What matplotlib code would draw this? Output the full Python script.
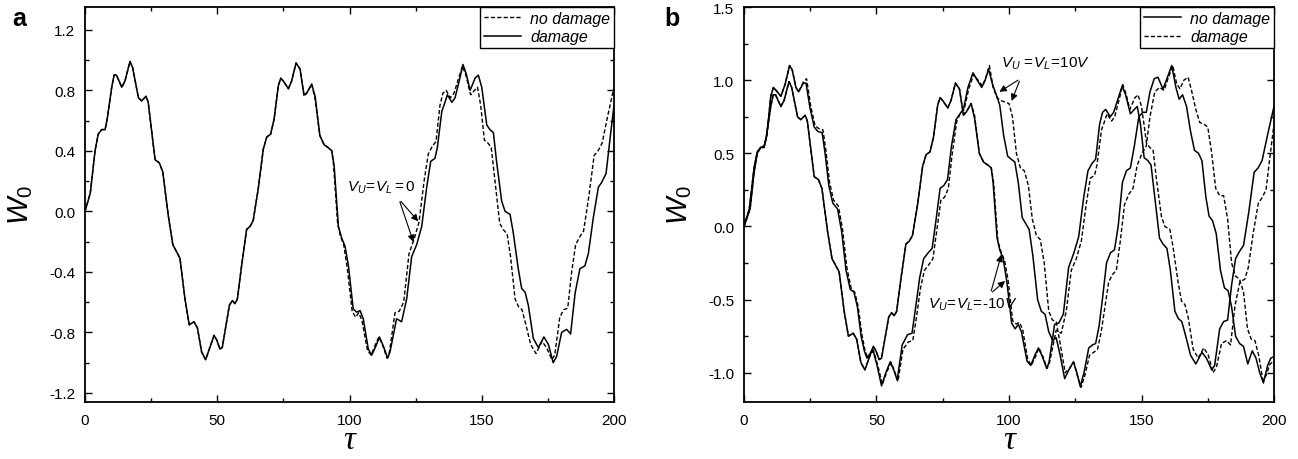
import numpy as np
import matplotlib.pyplot as plt

plt.rcParams['font.family'] = ['Liberation Sans', 'DejaVu Sans']
plt.rcParams['mathtext.fontset'] = 'custom'
plt.rcParams['mathtext.it'] = 'Liberation Sans:italic'
plt.rcParams['mathtext.rm'] = 'Liberation Sans'

# ---- panel a : V_U = V_L = 0 ----
tau_a_dmg = [0, 2, 3.8, 5, 6.3, 7.6, 8.4, 10.1, 11, 11.9, 13.9, 15.1, 17, 18, 20.2, 21.4, 23.1, 23.9,
             26.5, 28.1, 29.4, 31.5, 33.2, 34.7, 35.9, 37.8, 39.4, 41.2, 42.5, 44.1, 45.6, 46.6, 48.8,
             49.8, 51, 51.9, 54.6, 55.7, 56.7, 57.6, 59.2, 61.1, 62.4, 63.6, 65.5, 67.4, 68.7, 70.2,
             71.5, 73.1, 74, 75, 76.9, 78.1, 79.8, 81.3, 82.8, 83.8, 85.7, 87, 88.8, 90.4, 92, 93.3,
             94.2, 95.8, 97.1, 98.3, 99.6, 101.4, 102.7, 104, 105.2, 107.1, 108.4, 110, 111.3, 112.8,
             114.4, 115.3, 117.8, 119.7, 121.6, 123.5, 125.4, 127.3, 129.2, 130.7, 132.3, 133.2, 134.9,
             136.1, 137, 138.7, 139.9, 141.6, 142.9, 144.1, 145.6, 147.5, 148.7, 150, 151.9, 153.1,
             154.4, 155.6, 157.5, 158.8, 160.7, 161.9, 163.8, 165.1, 166.4, 167.6, 169.5, 171.4, 173.5,
             175.2, 177, 178.3, 180.2, 182.1, 183.6, 185.3, 187.1, 189, 190.3, 192.2, 194.1, 195.3,
             197, 198.5, 200]
w_a_dmg = [0, 0.12, 0.40, 0.51, 0.54, 0.54, 0.61, 0.82, 0.90, 0.90, 0.82, 0.86, 0.99, 0.95, 0.75, 0.73,
           0.76, 0.72, 0.34, 0.32, 0.26, -0.03, -0.22, -0.27, -0.31, -0.58, -0.75, -0.73, -0.77, -0.93,
           -0.98, -0.93, -0.82, -0.85, -0.91, -0.90, -0.62, -0.59, -0.61, -0.58, -0.36, -0.12, -0.10,
           -0.06, 0.15, 0.41, 0.49, 0.51, 0.61, 0.83, 0.88, 0.86, 0.81, 0.86, 0.98, 0.94, 0.77, 0.78,
           0.84, 0.76, 0.50, 0.44, 0.42, 0.40, 0.30, -0.10, -0.18, -0.23, -0.36, -0.645, -0.666, -0.656,
           -0.71, -0.91, -0.95, -0.89, -0.83, -0.89, -0.97, -0.93, -0.71, -0.73, -0.58, -0.30, -0.22,
           -0.10, 0.16, 0.33, 0.35, 0.42, 0.66, 0.72, 0.77, 0.72, 0.75, 0.87, 0.97, 0.91, 0.80, 0.88,
           0.90, 0.82, 0.57, 0.54, 0.52, 0.33, 0.07, 0.0, -0.02, -0.14, -0.38, -0.51, -0.535, -0.62,
           -0.84, -0.90, -0.83, -0.88, -1.0, -0.96, -0.80, -0.78, -0.81, -0.54, -0.38, -0.36, -0.28,
           -0.04, 0.16, 0.19, 0.25, 0.48, 0.70]

tau_a_nodmg = [0, 2, 3.8, 5, 6.3, 7.6, 8.4, 10.1, 11, 11.9, 13.9, 15.1, 17, 18, 20.2, 21.4, 23.1, 23.9,
               26.5, 28.1, 29.4, 31.5, 33.2, 34.7, 35.9, 37.8, 39.4, 41.2, 42.5, 44.1, 45.6, 46.6, 48.8,
               49.8, 51, 51.9, 54.6, 55.7, 56.7, 57.6, 59.2, 61.1, 62.4, 63.6, 65.5, 67.4, 68.7, 70.2,
               71.5, 73.1, 74, 75, 76.9, 78.1, 79.8, 81.3, 82.8, 83.8, 85.7, 87, 88.8, 90.4, 92, 93.3,
               94.0, 95.5, 96.5, 97.8, 99.2, 101.0, 102.3, 103.5, 104.7, 106.8, 108.2, 109.8, 111.1,
               112.6, 114.2, 115.1, 117.2, 118.8, 120.5, 122.5, 124.5, 126.3, 128.2, 129.8, 131.3,
               132.7, 134.2, 135.3, 136.5, 138.2, 139.5, 141.3, 142.7, 144.0, 145.8, 147.3, 148.4,
               149.6, 151.0, 152.4, 153.6, 155.0, 156.8, 158.1, 159.6, 160.9, 162.6, 163.9, 165.2,
               166.7, 168.5, 170.5, 172.8, 174.5, 176.5, 177.6, 179.5, 181.0, 182.5, 184.0, 185.5,
               187.0, 188.5, 190.5, 192.5, 194.0, 195.5, 197.5, 200]
w_a_nodmg = [0, 0.12, 0.40, 0.51, 0.54, 0.54, 0.61, 0.82, 0.90, 0.90, 0.82, 0.86, 0.99, 0.95, 0.75, 0.73,
             0.76, 0.72, 0.34, 0.32, 0.26, -0.03, -0.22, -0.27, -0.31, -0.58, -0.75, -0.73, -0.77, -0.93,
             -0.98, -0.93, -0.82, -0.85, -0.91, -0.90, -0.62, -0.59, -0.61, -0.58, -0.36, -0.12, -0.10,
             -0.06, 0.15, 0.41, 0.49, 0.51, 0.61, 0.83, 0.88, 0.86, 0.81, 0.86, 0.98, 0.94, 0.76, 0.78,
             0.84, 0.74, 0.50, 0.44, 0.42, 0.40, 0.30, -0.08, -0.16, -0.22, -0.38, -0.66, -0.70, -0.67,
             -0.72, -0.92, -0.95, -0.88, -0.83, -0.89, -0.97, -0.93, -0.67, -0.66, -0.60, -0.28, -0.18,
             -0.07, 0.20, 0.38, 0.43, 0.46, 0.70, 0.78, 0.80, 0.75, 0.78, 0.88, 0.96, 0.90, 0.77, 0.80,
             0.82, 0.70, 0.47, 0.45, 0.42, 0.20, -0.08, -0.12, -0.15, -0.30, -0.58, -0.63, -0.65, -0.75,
             -0.88, -0.94, -0.86, -0.90, -0.98, -0.95, -0.70, -0.65, -0.64, -0.40, -0.22, -0.17, -0.13,
             0.10, 0.37, 0.40, 0.45, 0.62, 0.82]

# ---- panel b : V_U = V_L = -10V (the pair that stays close to panel a) ----
tau_b_m10_nodmg = tau_a_nodmg
w_b_m10_nodmg = w_a_nodmg
tau_b_m10_dmg = tau_a_dmg
w_b_m10_dmg = w_a_dmg

# ---- panel b : V_U = V_L = 10V, (tau, W0) pairs ----
b_p10_nodmg = [(0, 0), (2.3, 0.12), (3.8, 0.37), (5.0, 0.50), (6.3, 0.54), (7.6, 0.55), (8.6, 0.62),
               (10.1, 0.89), (11.1, 0.95), (12.1, 0.93), (13.9, 0.89), (15.5, 0.97), (17.2, 1.10),
               (18.2, 1.07), (19.6, 0.95), (20.6, 0.92), (22.4, 0.98), (23.4, 0.98), (24.9, 0.81),
               (26.5, 0.68), (27.8, 0.65), (29.5, 0.64), (30.6, 0.50), (32.0, 0.28), (33.5, 0.16),
               (35.3, 0.12), (36.9, -0.04), (38.5, -0.30), (40.1, -0.43), (41.5, -0.45), (42.8, -0.55),
               (44.2, -0.75), (45.4, -0.85), (46.4, -0.90), (48.6, -0.84), (50.2, -0.95), (51.9, -1.09),
               (53.5, -1.0), (55.2, -0.925), (56.5, -0.98), (57.8, -1.05), (59.7, -0.81), (61.7, -0.74),
               (63.4, -0.73), (64.8, -0.55), (66.3, -0.35), (67.8, -0.22), (69.5, -0.18), (71.0, -0.15),
               (72.5, 0.05), (74.0, 0.26), (75.4, 0.28), (76.8, 0.32), (78.3, 0.55), (80.0, 0.73),
               (81.5, 0.77), (82.8, 0.80), (84.5, 0.95), (86.4, 1.05), (88.0, 1.0), (89.7, 0.95),
               (91.0, 1.0), (92.3, 1.075), (93.8, 0.97), (95.4, 0.89), (96.5, 0.83), (98.0, 0.62),
               (99.5, 0.48), (100.8, 0.46), (102.2, 0.44), (103.5, 0.30), (105.0, 0.06), (106.3, 0.02),
               (107.6, -0.02), (109.0, -0.20), (110.8, -0.50), (112.2, -0.58), (113.6, -0.60),
               (115.0, -0.72), (116.5, -0.78), (117.8, -0.76), (119.3, -0.88), (121.0, -1.04),
               (122.6, -0.98), (124.3, -0.925), (125.6, -1.0), (126.9, -1.095), (128.3, -1.0),
               (130.1, -0.83), (131.5, -0.81), (132.7, -0.80), (134.0, -0.68), (135.3, -0.49),
               (136.8, -0.25), (138.3, -0.18), (139.8, -0.16), (141.2, 0.0), (142.8, 0.30), (144.3, 0.38),
               (145.8, 0.40), (147.3, 0.55), (149.0, 0.75), (150.5, 0.78), (151.8, 0.78), (153.2, 0.92),
               (154.8, 1.01), (156.2, 1.02), (158.1, 0.94), (159.8, 1.02), (161.4, 1.10), (163.0, 0.95),
               (164.2, 0.87), (165.5, 0.90), (167.0, 0.82), (168.5, 0.65), (170.0, 0.52), (171.5, 0.50),
               (172.8, 0.45), (174.3, 0.20), (175.5, 0.07), (176.8, 0.04), (178.2, -0.05), (179.8, -0.30),
               (181.3, -0.42), (182.7, -0.44), (184.0, -0.55), (185.5, -0.75), (187.0, -0.80),
               (188.5, -0.82), (190.1, -0.94), (191.8, -0.85), (193.2, -0.90), (194.6, -1.0),
               (196.0, -1.07), (197.6, -0.95), (198.8, -0.90), (200, -0.89)]

b_p10_dmg = [(0, 0), (2.3, 0.12), (3.8, 0.37), (5.0, 0.50), (6.3, 0.54), (7.6, 0.55), (8.6, 0.62),
             (10.1, 0.89), (11.1, 0.95), (12.1, 0.93), (13.9, 0.89), (15.5, 0.97), (17.2, 1.10),
             (18.2, 1.07), (19.6, 0.95), (20.6, 0.92), (22.5, 0.99), (23.6, 1.01), (25.1, 0.83),
             (26.8, 0.69), (28.1, 0.67), (29.8, 0.66), (30.9, 0.52), (32.3, 0.30), (33.8, 0.18),
             (35.6, 0.14), (37.2, -0.02), (38.8, -0.28), (40.4, -0.42), (41.8, -0.45), (43.1, -0.55),
             (44.5, -0.74), (45.7, -0.85), (46.7, -0.90), (48.9, -0.85), (50.5, -0.95), (52.2, -1.08),
             (53.8, -1.0), (55.5, -0.93), (56.8, -0.99), (58.1, -1.06), (60.0, -0.84), (62.0, -0.79),
             (63.7, -0.78), (65.1, -0.62), (66.6, -0.42), (68.1, -0.30), (69.8, -0.26), (71.3, -0.22),
             (72.8, -0.02), (74.3, 0.18), (75.7, 0.20), (77.1, 0.26), (78.6, 0.50), (80.3, 0.72),
             (81.8, 0.78), (83.1, 0.80), (84.8, 0.94), (86.7, 1.04), (88.3, 1.0), (90.0, 0.96),
             (91.3, 1.02), (92.6, 1.10), (94.0, 0.95), (95.5, 0.88), (97.0, 0.86), (98.5, 0.85),
             (100.0, 0.84), (101.3, 0.75), (102.8, 0.50), (104.3, 0.40), (105.8, 0.38), (107.3, 0.28),
             (108.8, 0.05), (110.3, -0.06), (111.8, -0.09), (113.3, -0.25), (115.0, -0.58),
             (116.4, -0.64), (117.8, -0.65), (119.3, -0.80), (121.2, -1.0), (122.8, -0.97),
             (124.5, -0.93), (125.8, -1.02), (127.2, -1.10), (128.6, -1.02), (130.4, -0.88),
             (132.0, -0.86), (133.4, -0.84), (134.8, -0.72), (136.2, -0.55), (137.6, -0.38),
             (139.0, -0.33), (140.5, -0.30), (142.0, -0.10), (143.6, 0.15), (145.2, 0.22), (146.8, 0.26),
             (148.4, 0.42), (150.2, 0.50), (151.8, 0.55), (153.2, 0.75), (155.0, 0.92), (156.8, 0.95),
             (158.5, 0.93), (160.2, 1.02), (161.8, 1.10), (163.2, 0.98), (164.5, 0.94), (166.0, 1.0),
             (167.6, 1.02), (169.0, 0.92), (170.5, 0.80), (172.0, 0.71), (173.5, 0.70), (175.0, 0.68),
             (176.5, 0.50), (178.0, 0.26), (179.5, 0.21), (181.0, 0.21), (182.5, 0.05), (184.0, -0.25),
             (185.5, -0.34), (187.0, -0.36), (188.5, -0.45), (190.0, -0.70), (191.4, -0.77),
             (192.8, -0.78), (194.2, -0.88), (195.8, -1.05), (197.0, -1.02), (198.5, -0.94), (200, -0.92)]

xticks = [0, 50, 100, 150, 200]
yticks_a = [-1.2, -0.8, -0.4, 0.0, 0.4, 0.8, 1.2]
yticks_b = [-1.0, -0.5, 0.0, 0.5, 1.0, 1.5]

fig = plt.figure(figsize=(12.98, 4.6), dpi=100)
ax1 = fig.add_axes([85/1298, 1-403/460, 529/1298, 395/460])
ax2 = fig.add_axes([744/1298, 1-403/460, 530/1298, 395/460])


def style(ax, yticks, ylim, yminor):
    ax.set_xlim(0, 200)
    ax.set_ylim(*ylim)
    ax.set_xticks(xticks)
    ax.set_xticks([25, 75, 125, 175], minor=True)
    ax.set_yticks(yticks)
    ax.set_yticks(yminor, minor=True)
    ax.set_yticklabels(['%.1f' % v for v in yticks])
    ax.tick_params(which='both', direction='in', top=True, right=True, labelsize=11, width=1.0)
    ax.tick_params(which='major', length=5)
    ax.tick_params(which='minor', length=3)
    ax.tick_params(axis='x', pad=8)
    ax.tick_params(axis='y', pad=7)
    for s in ax.spines.values():
        s.set_linewidth(1.3)
    ax.set_xlabel('τ', fontsize=24, family='Liberation Serif', style='italic', labelpad=-2)
    ax.set_ylabel(r'$W_0$', fontsize=21, labelpad=10)


def legend(ax):
    leg = ax.legend(loc='upper right', borderaxespad=0, fancybox=False, edgecolor='black',
                    handlelength=2.3, prop={'style': 'italic', 'size': 11.5}, borderpad=0.25,
                    labelspacing=0.2, handletextpad=0.55, framealpha=1)
    leg.get_frame().set_linewidth(1.0)


arrow = dict(arrowstyle='-|>', color='black', lw=0.8, mutation_scale=10)

# panel a
ax1.plot(tau_a_nodmg, w_a_nodmg, 'k--', lw=1.0, dashes=(3, 1.6), label='no damage')
ax1.plot(tau_a_dmg, w_a_dmg, 'k-', lw=1.1, label='damage')
style(ax1, yticks_a, (-1.26, 1.35), np.arange(-1.2, 1.3, 0.2))
legend(ax1)
ax1.text(99, 0.16, r'$V_U\!=\!V_L = 0$', fontsize=11, va='center')
for tip in [(126.7, -0.08), (124.5, -0.22)]:
    ax1.annotate('', xy=tip, xytext=(118.7, 0.08), arrowprops=arrow)
fig.text(12/1298, 1-19/460, 'a', fontsize=18, fontweight='bold', va='center')

# panel b
tau_p, w_p = zip(*b_p10_nodmg)
tau_pd, w_pd = zip(*b_p10_dmg)
ax2.plot(tau_b_m10_nodmg, w_b_m10_nodmg, 'k-', lw=1.1, label='no damage')
ax2.plot(tau_b_m10_dmg, w_b_m10_dmg, 'k--', lw=1.0, dashes=(3, 1.6), label='damage')
ax2.plot(tau_p, w_p, 'k-', lw=1.1)
ax2.plot(tau_pd, w_pd, 'k--', lw=1.0, dashes=(3, 1.6))
style(ax2, yticks_b, (-1.2, 1.5), np.arange(-1.0, 1.6, 0.25))
legend(ax2)
ax2.text(96.8, 1.12, r'$V_U\,=\!V_L\!=\!10V$', fontsize=11, va='center')
for tip in [(95.5, 0.91), (100.6, 0.84)]:
    ax2.annotate('', xy=tip, xytext=(104.3, 1.01), arrowprops=arrow)
ax2.text(69.3, -0.53, r'$V_U\!=\!V_L\!=\!$-10$V$', fontsize=11, va='center')
for tip in [(97.4, -0.175), (99.3, -0.36)]:
    ax2.annotate('', xy=tip, xytext=(93, -0.46), arrowprops=arrow)
fig.text(664/1298, 1-19/460, 'b', fontsize=18, fontweight='bold', va='center')

fig.savefig('out.png', dpi=100)
